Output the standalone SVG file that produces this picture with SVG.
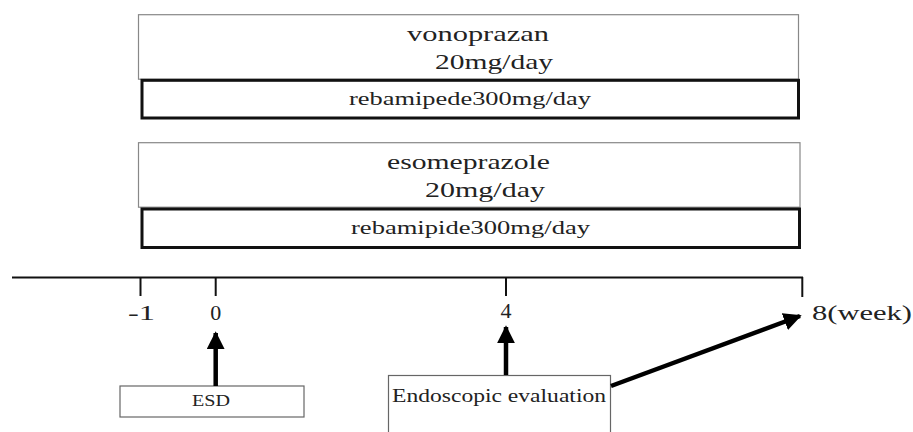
<svg xmlns="http://www.w3.org/2000/svg" width="913" height="432" viewBox="0 0 913 432" font-family="'Liberation Serif', 'Times New Roman', serif">
<defs>
<style>
text{font-family:'Liberation Serif','Times New Roman',serif;fill:#222;}
.outer{fill:#fff;stroke:#888;stroke-width:1.2;}
.inner{fill:#fff;stroke:#111;stroke-width:3;}
.thin{fill:#fff;stroke:#666;stroke-width:1.2;}
.axis{stroke:#111;stroke-width:2;fill:none;}
.arr{stroke:#000;stroke-width:4.5;fill:none;}
</style>
<marker id="ah" viewBox="0 0 10 10" refX="9" refY="5" markerWidth="4" markerHeight="4" markerUnits="strokeWidth" orient="auto">
<path d="M0,0 L10,5 L0,10 z" fill="#000"/>
</marker>
</defs>
<rect width="913" height="432" fill="#fff"/>
<g id="vonoprazan">
<rect class="outer" x="138.5" y="14.7" width="660" height="64.5"/>
<text x="407" y="41" font-size="22" textLength="142" lengthAdjust="spacingAndGlyphs">vonoprazan</text>
<text x="435" y="69" font-size="22" textLength="118" lengthAdjust="spacingAndGlyphs">20mg/day</text>
</g>
<g id="rebamipede">
<rect class="inner" x="142" y="80.3" width="656.5" height="37.7"/>
<text x="349" y="105" font-size="18" textLength="242" lengthAdjust="spacingAndGlyphs">rebamipede300mg/day</text>
</g>
<g id="esomeprazole">
<rect class="outer" x="138.5" y="142.7" width="661.5" height="64.5"/>
<text x="387" y="169" font-size="22" textLength="163" lengthAdjust="spacingAndGlyphs">esomeprazole</text>
<text x="425" y="197" font-size="22" textLength="120" lengthAdjust="spacingAndGlyphs">20mg/day</text>
</g>
<g id="rebamipide">
<rect class="inner" x="142" y="209" width="657.5" height="38.5"/>
<text x="351" y="234" font-size="18" textLength="239" lengthAdjust="spacingAndGlyphs">rebamipide300mg/day</text>
</g>
<g id="timeline">
<line class="axis" x1="12" y1="277.5" x2="803" y2="277.5"/>
<line class="axis" x1="140.5" y1="277" x2="140.5" y2="296"/>
<line class="axis" x1="215.7" y1="277" x2="215.7" y2="296"/>
<line class="axis" x1="506" y1="277" x2="506" y2="296"/>
<line class="axis" x1="802.3" y1="277" x2="802.3" y2="297"/>
<text x="128" y="320" font-size="22" textLength="27" lengthAdjust="spacingAndGlyphs">-1</text>
<text x="215.7" y="320" font-size="22" text-anchor="middle">0</text>
<text x="506" y="318" font-size="22" text-anchor="middle">4</text>
<text x="812" y="320" font-size="22" textLength="100" lengthAdjust="spacingAndGlyphs">8(week)</text>
</g>
<g id="esd">
<rect class="thin" x="120" y="386" width="184" height="31"/>
<text x="192" y="406" font-size="17" textLength="38" lengthAdjust="spacingAndGlyphs">ESD</text>
</g>
<g id="endoscopic-evaluation">
<rect class="thin" x="388.5" y="375.5" width="222" height="70"/>
<text x="392" y="401.5" font-size="19" textLength="214" lengthAdjust="spacingAndGlyphs">Endoscopic evaluation</text>
</g>
<g id="connectors">
<line class="arr" x1="215.7" y1="386" x2="215.7" y2="333" marker-end="url(#ah)"/>
<line class="arr" x1="506" y1="375" x2="506" y2="327" marker-end="url(#ah)"/>
<line class="arr" x1="611" y1="386" x2="800" y2="316" marker-end="url(#ah)"/>
</g>
</svg>
